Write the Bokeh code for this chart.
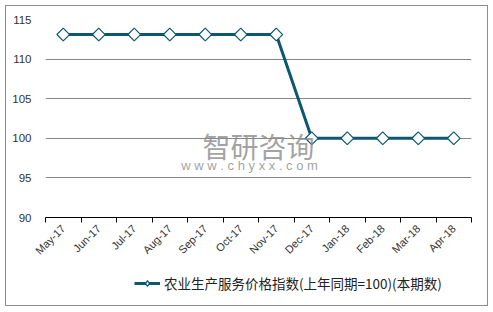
from bokeh.plotting import figure
from bokeh.layouts import column
from bokeh.models import (FixedTicker, Legend, LegendItem, Label, Range1d)
from bokeh.embed import file_html
from bokeh.resources import INLINE

months = ["May-17", "Jun-17", "Jul-17", "Aug-17", "Sep-17", "Oct-17", "Nov-17",
          "Dec-17", "Jan-18", "Feb-18", "Mar-18", "Apr-18"]
values = [113.1, 113.1, 113.1, 113.1, 113.1, 113.1, 113.1,
          100.0, 100.0, 100.0, 100.0, 100.0]
y_ticks = [90, 95, 100, 105, 110, 115]
series_name = "农业生产服务价格指数(上年同期=100)(本期数)"

xs = [i + 0.5 for i in range(len(months))]

FONT = "Liberation Sans"
LINE_COLOR = "#0b5870"

p = figure(width=481, height=258, output_backend="svg", toolbar_location=None,
           x_range=Range1d(0, len(months)), y_range=Range1d(90, 115),
           min_border_left=39, min_border_right=16, min_border_top=13, min_border_bottom=47)
p.outline_line_color = None
p.background_fill_color = "white"
p.border_fill_color = "white"

# x axis: ticks at category boundaries, labels at centres
p.xaxis.ticker = FixedTicker(ticks=xs, minor_ticks=list(range(len(months) + 1)))
p.xaxis.major_label_overrides = {x: m for x, m in zip(xs, months)}
p.xaxis.major_label_orientation = 0.785
p.xaxis.major_tick_in = 0
p.xaxis.major_tick_out = 0
p.xaxis.minor_tick_in = 0
p.xaxis.minor_tick_out = 5
p.xaxis.minor_tick_line_color = "black"
p.xaxis.axis_line_color = "black"
p.xaxis.major_label_text_font = FONT
p.xaxis.major_label_text_font_size = "11px"
p.xaxis.major_label_text_color = "#333333"
p.xaxis.major_label_standoff = 4

p.yaxis.ticker = FixedTicker(ticks=y_ticks)
p.yaxis.axis_line_color = None
p.yaxis.major_tick_line_color = None
p.yaxis.minor_tick_line_color = None
p.yaxis.major_label_text_font = FONT
p.yaxis.major_label_text_font_size = "11.5px"
p.yaxis.major_label_text_color = "#333333"
p.yaxis.major_label_standoff = 8

p.xgrid.grid_line_color = None
p.ygrid.grid_line_color = "#868686"
p.ygrid.grid_line_width = 1

# watermark
p.add_layout(Label(x=6.0, y=99.0, text="智研咨询", text_font="Noto Sans CJK SC",
                   text_font_size="28px", text_color="#8a8a8a", text_alpha=0.8,
                   text_align="center", text_baseline="middle"))
p.add_layout(Label(x=5.75, y=96.6, text="w w w . c h y x x . c o m", text_font=FONT,
                   text_font_size="13px", text_color="#8a8a8a", text_alpha=0.8,
                   text_align="center", text_baseline="middle"))

line = p.line(xs, values, line_color=LINE_COLOR, line_width=3)
pts = p.scatter(xs, values, marker="square", angle=0.785, size=9, fill_color="white",
                line_color=LINE_COLOR, line_width=1.2)

# legend strip below the chart (its renderers hold the series but lie outside its ranges)
lg = figure(width=481, height=41, output_backend="svg", toolbar_location=None,
            x_range=Range1d(-3, -2), y_range=Range1d(0, 1),
            x_axis_location=None, y_axis_location=None,
            min_border=0)
lg.outline_line_color = None
lg.grid.visible = False
lg.background_fill_color = "white"
lg.border_fill_color = "white"
l_line = lg.line(xs, values, line_color=LINE_COLOR, line_width=3)
l_pts = lg.scatter(xs, values, marker="diamond", size=13, fill_color="white",
                   line_color=LINE_COLOR, line_width=1.2)
legend = Legend(items=[LegendItem(label=series_name, renderers=[l_line, l_pts])],
                location=(89, 12), orientation="horizontal",
                background_fill_alpha=0, border_line_color=None,
                label_text_font="Noto Sans CJK SC", label_text_font_size="13.5px",
                label_text_color="#222222", glyph_width=26, glyph_height=14,
                padding=0, margin=0, label_standoff=4)
lg.add_layout(legend, "center")

page = column(p, lg, spacing=0,
              styles={"border": "1px solid #8c8c8c", "margin-left": "5px", "margin-top": "5px"})

open("out.html", "w").write(file_html(page, INLINE))
